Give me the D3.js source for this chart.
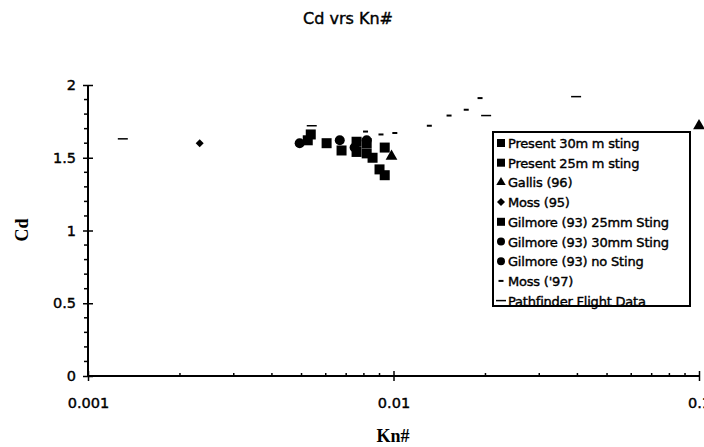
<!DOCTYPE html>
<html>
<head>
<meta charset="utf-8">
<script src="https://cdn.jsdelivr.net/npm/d3@7"></script>
<style>
  body { margin: 0; background: #fff; }
  svg { display: block; }
  .heavy { stroke: #000; stroke-width: 0.4px; }
</style>
</head>
<body>
<div id="chart"></div>
<script>
var width = 704;
var height = 447;

// data: [Kn, Cd]
var present30 = [[0.00757, 1.61], [0.00817, 1.53], [0.00854, 1.50], [0.00936, 1.57], [0.0090, 1.42]];
var present25 = [[0.00757, 1.54], [0.00817, 1.60], [0.00936, 1.38], [0.00676, 1.55]];
var gallis = [[0.00985, 1.51], [0.1, 1.72]];
var moss95 = [[0.00232, 1.60]];
var gilmore25 = [[0.00536, 1.66], [0.00524, 1.62], [0.00604, 1.60]];
var gilmore30 = [[0.00667, 1.62], [0.00746, 1.57]];
var gilmoreNo = [[0.00493, 1.60], [0.00817, 1.62]];
var moss97 = [[0.0081, 1.68], [0.0091, 1.66], [0.0101, 1.67], [0.0131, 1.72], [0.0152, 1.79], [0.0173, 1.83], [0.0192, 1.91]];
var pathfinder = [[0.0013, 1.63], [0.0054, 1.72], [0.0201, 1.79], [0.0396, 1.92]];

var legendNames = ['Present 30m m sting', 'Present 25m m sting', 'Gallis (96)', 'Moss (95)',
  'Gilmore (93) 25mm Sting', 'Gilmore (93) 30mm Sting', 'Gilmore (93) no Sting', "Moss ('97)", 'Pathfinder Flight Data'];
var xTickValues = [0.001, 0.01, 0.1];
var yTickValues = [0, 0.5, 1, 1.5, 2];

var series = [
  { data: present30, shape: 'square' },
  { data: present25, shape: 'square' },
  { data: gallis, shape: 'triangle' },
  { data: moss95, shape: 'diamond' },
  { data: gilmore25, shape: 'square' },
  { data: gilmore30, shape: 'circle' },
  { data: gilmoreNo, shape: 'circle' },
  { data: moss97, shape: 'dash' },
  { data: pathfinder, shape: 'longdash' }
];

var svg = d3.select('#chart').append('svg')
  .attr('width', width)
  .attr('height', height);

var xScale = d3.scaleLog().domain([0.001, 0.1]).range([88, 699]);
var yScale = d3.scaleLinear().domain([0, 2]).range([376, 85]);

var sans = '"DejaVu Sans", sans-serif';
var serif = '"Times New Roman", "Liberation Serif", serif';

// title
svg.append('text')
  .attr('class', 'heavy')
  .attr('x', 348).attr('y', 24)
  .attr('text-anchor', 'middle')
  .style('font-family', sans).style('font-size', '16px')
  .text('Cd vrs Kn#');

// y axis
var yAxis = d3.axisLeft(yScale).tickValues(yTickValues).tickSize(5).tickPadding(6)
  .tickFormat(function(d) { return String(d); });
var gy = svg.append('g').attr('transform', 'translate(' + xScale(0.001) + ',0)').call(yAxis);
gy.select('.domain').remove();
gy.append('line').attr('x1', 0).attr('x2', 0).attr('y1', yScale(0)).attr('y2', yScale(2))
  .attr('stroke', '#000').attr('stroke-width', 2);
gy.selectAll('.tick line').attr('x2', -5).attr('x1', 5).attr('stroke-width', 1.5);
gy.selectAll('.tick text').attr('class', 'heavy')
  .style('font-family', sans).style('font-size', '14.5px').attr('x', -12);
gy.selectAll('.minor').data(d3.range(0, 2.01, 0.1).filter(function(v) { return Math.round(v * 10) % 5 !== 0; }))
  .enter().append('line').attr('class', 'minor')
  .attr('x1', -4).attr('x2', 0)
  .attr('y1', function(d) { return yScale(d); }).attr('y2', function(d) { return yScale(d); })
  .attr('stroke', '#000').attr('stroke-width', 1.5);

// x axis
var xAxis = d3.axisBottom(xScale).tickValues(xTickValues).tickSize(5).tickPadding(17)
  .tickFormat(function(d) { return String(d); });
var gx = svg.append('g').attr('transform', 'translate(0,' + yScale(0) + ')').call(xAxis);
gx.select('.domain').remove();
gx.append('line').attr('x1', xScale(0.001)).attr('x2', xScale(0.1)).attr('y1', 0).attr('y2', 0)
  .attr('stroke', '#000').attr('stroke-width', 2);
gx.selectAll('.tick line').attr('y1', -5).attr('y2', 5).attr('stroke-width', 1.5);
gx.selectAll('.tick text').attr('class', 'heavy')
  .style('font-family', sans).style('font-size', '14.5px');
var minorX = [];
[0.001, 0.01].forEach(function(b) { for (var k = 2; k <= 9; k++) minorX.push(b * k); });
gx.selectAll('.minor').data(minorX).enter().append('line').attr('class', 'minor')
  .attr('x1', function(d) { return xScale(d); }).attr('x2', function(d) { return xScale(d); })
  .attr('y1', -3).attr('y2', 0)
  .attr('stroke', '#000').attr('stroke-width', 1.5);

// axis titles
svg.append('text')
  .attr('x', 393).attr('y', 442)
  .attr('text-anchor', 'middle')
  .style('font-family', serif).style('font-size', '18px').style('font-weight', 'bold')
  .text('Kn#');
svg.append('text')
  .attr('transform', 'translate(28,230) rotate(-90)')
  .attr('text-anchor', 'middle')
  .style('font-family', serif).style('font-size', '18px').style('font-weight', 'bold')
  .text('Cd');

// draw a marker of a given shape at (0,0) inside a group
function drawMarker(g, shape, scale) {
  scale = scale || 1;
  if (shape === 'square') {
    g.append('rect').attr('x', -5 * scale).attr('y', -5 * scale)
      .attr('width', 10 * scale).attr('height', 10 * scale).attr('fill', '#000');
  } else if (shape === 'circle') {
    g.append('circle').attr('r', 5 * scale).attr('fill', '#000');
  } else if (shape === 'triangle') {
    g.append('path').attr('d', d3.symbol().type(d3.symbolTriangle).size(60 * scale * scale)).attr('fill', '#000');
  } else if (shape === 'diamond') {
    g.append('path').attr('d', 'M0,-4L4,0L0,4L-4,0Z').attr('fill', '#000');
  } else if (shape === 'dash') {
    g.append('line').attr('x1', -2.5).attr('x2', 2.5).attr('stroke', '#000').attr('stroke-width', 2);
  } else if (shape === 'longdash') {
    g.append('line').attr('x1', -5).attr('x2', 5).attr('stroke', '#000').attr('stroke-width', 1.5);
  }
}

// points
series.forEach(function(s) {
  svg.append('g').selectAll('g')
    .data(s.data)
    .enter().append('g')
    .attr('transform', function(d) { return 'translate(' + xScale(d[0]) + ',' + yScale(d[1]) + ')'; })
    .each(function() { drawMarker(d3.select(this), s.shape); });
});

// legend
var legend = svg.append('g').attr('transform', 'translate(493,132)');
legend.append('rect').attr('x', 0).attr('y', 0).attr('width', 197).attr('height', 174)
  .attr('fill', '#fff').attr('stroke', '#000').attr('stroke-width', 2);
var items = legend.selectAll('.item').data(legendNames).enter().append('g')
  .attr('class', 'item')
  .attr('transform', function(d, i) { return 'translate(8,' + (11 + i * 19.7) + ')'; });
items.each(function(d, i) { drawMarker(d3.select(this), series[i].shape, 0.8); });
items.append('text')
  .attr('class', 'heavy')
  .attr('x', 7).attr('y', 5)
  .style('font-family', sans).style('font-size', '13px')
  .style('letter-spacing', '-0.2px')
  .text(function(d) { return d; });
</script>
</body>
</html>
